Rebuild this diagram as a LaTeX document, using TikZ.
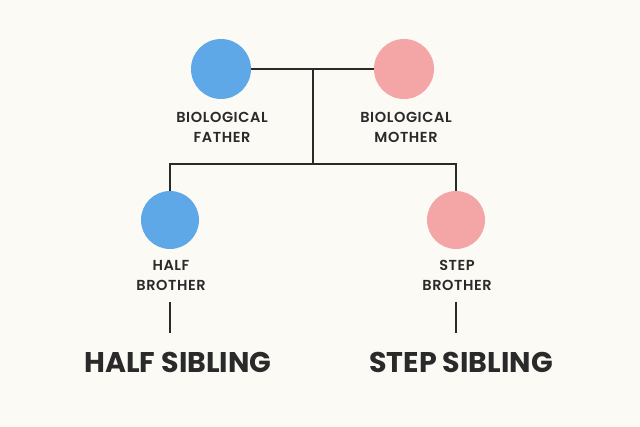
\documentclass[tikz,border=0pt]{standalone}
\usepackage{fontspec}
\setmainfont{Poppins}[BoldFont={Poppins SemiBold}]
\newfontfamily\heavyfont{Poppins Bold}
\newfontfamily\labelfont{Poppins SemiBold}[LetterSpace=4]
\definecolor{bg}{HTML}{FCFAF5}
\definecolor{blueC}{HTML}{5EA8E8}
\definecolor{pinkC}{HTML}{F4A6A6}
\definecolor{ink}{HTML}{2A2A2A}
\tikzset{
  person/.style={circle, minimum size=60pt, inner sep=0pt},
  male/.style={person, fill=blueC},
  female/.style={person, fill=pinkC},
  lbl/.style={text=ink, font=\fontsize{14.5}{20}\selectfont\labelfont, align=center},
  title/.style={text=ink, font=\fontsize{28.5}{32}\selectfont\heavyfont},
  link/.style={draw=ink, line width=2.4pt},
}
\begin{document}
\begin{tikzpicture}[x=1pt,y=-1pt]
\fill[bg] (0,0) rectangle (640,427);
\useasboundingbox (0,0) rectangle (640,427);
\node[male] (father) at (221,69) {};
\node[female] (mother) at (404,69) {};
\node[male,minimum size=58pt] (half) at (170,220) {};
\node[female,minimum size=58pt] (step) at (456,220) {};
\coordinate (mid) at (313,69);
\coordinate (junc) at (313,164);
\coordinate (hl) at (170,164);
\coordinate (hr) at (456,164);
\draw[link] (father.east) -- (mother.west);
\draw[link] (mid) -- (junc);
\draw[link] ([xshift=-1.2pt]hl) -- ([xshift=1.2pt]hr);
\draw[link] (hl) -- (half.north);
\draw[link] (hr) -- (step.north);
\node[lbl] (lf) at (222,127) {BIOLOGICAL\\FATHER};
\node[lbl] (lm) at (406,127) {BIOLOGICAL\\MOTHER};
\node[lbl] (lh) at (171,275) {HALF\\BROTHER};
\node[lbl] (ls) at (457,275) {STEP\\BROTHER};
\coordinate (th1) at (170,302);
\coordinate (th2) at (170,333);
\coordinate (ts1) at (456,302);
\coordinate (ts2) at (456,333);
\draw[link] (th1) -- (th2);
\draw[link] (ts1) -- (ts2);
\node[title] (hs) at (178,362) {HALF SIBLING};
\node[title] (ss) at (461,362) {STEP SIBLING};
\end{tikzpicture}
\end{document}
